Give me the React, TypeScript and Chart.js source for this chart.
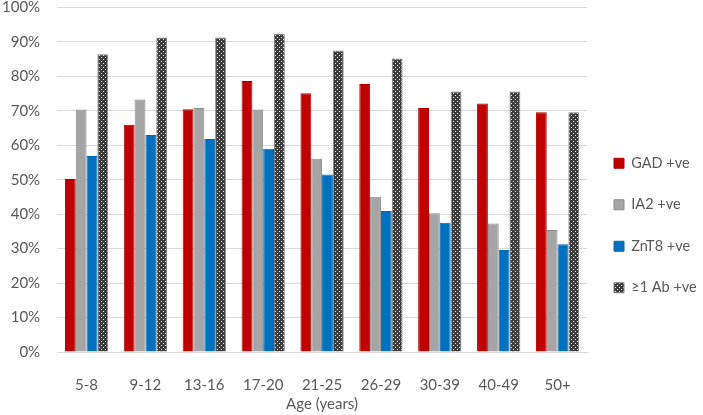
import React, { useEffect, useRef } from "react";
import { Chart, registerables } from "chart.js";

Chart.register(...registerables);

const categories = ["5-8", "9-12", "13-16", "17-20", "21-25", "26-29", "30-39", "40-49", "50+"];
const gadValues = [50.2, 66.0, 70.5, 78.7, 75.1, 77.8, 70.8, 72.1, 69.6];
const ia2Values = [70.4, 73.3, 70.8, 70.4, 56.1, 45.1, 40.3, 37.3, 35.4];
const znt8Values = [56.9, 63.0, 61.8, 59.0, 51.5, 40.9, 37.5, 29.6, 31.3];
const abValues = [86.4, 91.3, 91.3, 92.4, 87.5, 85.2, 75.6, 75.6, 69.6];
const seriesNames = ["GAD +ve", "IA2 +ve", "ZnT8 +ve", "≥1 Ab +ve"];
const xTitle = "Age (years)";

function makeDotPattern(): CanvasPattern | string {
  const c = document.createElement("canvas");
  c.width = 4;
  c.height = 4;
  const g = c.getContext("2d");
  if (!g) return "#404040";
  g.fillStyle = "#3c3c3c";
  g.fillRect(0, 0, 4, 4);
  g.fillStyle = "#e8e8e8";
  g.fillRect(1, 1, 1, 1);
  g.fillRect(3, 3, 1, 1);
  const p = g.createPattern(c, "repeat");
  return p || "#404040";
}

export default function App() {
  const ref = useRef<HTMLCanvasElement | null>(null);
  useEffect(() => {
    document.body.style.margin = "0";
    if (!ref.current) return;
    const dots = makeDotPattern();
    const textColor = "#595959";
    const chart = new Chart(ref.current, {
      type: "bar",
      data: {
        labels: categories,
        datasets: [
          { label: seriesNames[0], data: gadValues, backgroundColor: "#C00000", borderColor: "#B00000", borderWidth: 1 },
          { label: seriesNames[1], data: ia2Values, backgroundColor: "#A5A5A5", borderColor: "#8A8A8A", borderWidth: 1 },
          { label: seriesNames[2], data: znt8Values, backgroundColor: "#0070C0", borderColor: "#0068B4", borderWidth: 1 },
          { label: seriesNames[3], data: abValues, backgroundColor: dots as any, borderColor: "#808080", borderWidth: 1 },
        ],
      },
      options: {
        animation: false,
        responsive: true,
        maintainAspectRatio: false,
        datasets: { bar: { categoryPercentage: 0.735, barPercentage: 1 } },
        layout: { padding: { left: 2, right: 0, top: 0, bottom: 0 } },
        plugins: {
          tooltip: { enabled: false },
          legend: {
            position: "right",
            align: "center",
            maxWidth: 116,
            title: { display: true, text: " ", font: { size: 10, lineHeight: 1.2 }, padding: { top: 12, bottom: 12 } },
            labels: {
              boxWidth: 10,
              boxHeight: 10,
              padding: 27,
              color: textColor,
              font: { family: "Lato", size: 14.5 },
            },
          },
        },
        scales: {
          x: {
            grid: { display: false, drawTicks: true, tickLength: 24 },
            border: { display: true, color: "#D9D9D9", width: 1 },
            ticks: { color: textColor, font: { family: "Lato", size: 15 }, padding: 0, maxRotation: 0 },
            title: {
              display: true,
              text: xTitle,
              color: textColor,
              font: { family: "Lato", size: 15 },
              padding: { top: 1, bottom: 2 },
            },
          },
          y: {
            min: 0,
            max: 100,
            grid: { color: "#D9D9D9", lineWidth: 1, drawTicks: true, tickLength: 17, tickColor: "rgba(0,0,0,0)" },
            border: { display: false },
            ticks: {
              stepSize: 10,
              color: textColor,
              padding: 0,
              font: { family: "Lato", size: 15, lineHeight: 1 },
              callback: (v: any) => v + "%",
            },
          },
        },
      },
    });
    return () => chart.destroy();
  }, []);
  return (
    <div style={{ width: 703, height: 415, position: "relative" }}>
      <canvas ref={ref} />
    </div>
  );
}
